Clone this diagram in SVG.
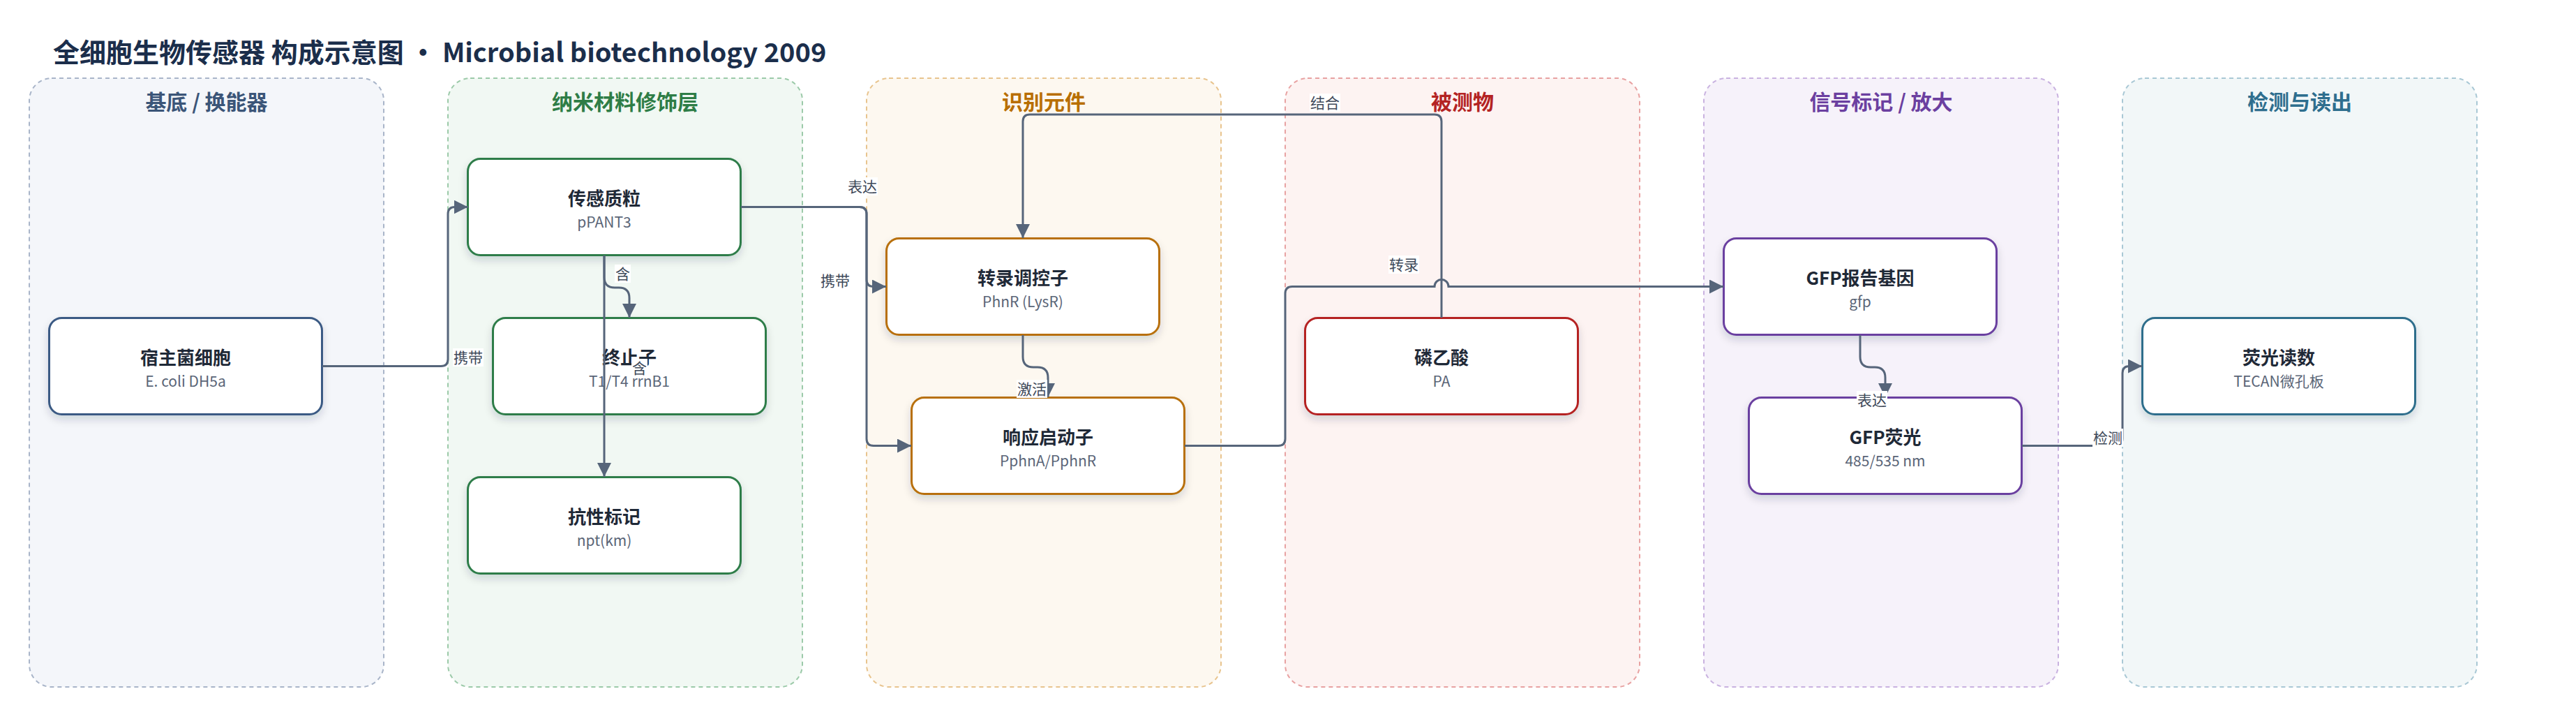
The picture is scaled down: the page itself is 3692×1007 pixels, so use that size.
<svg xmlns="http://www.w3.org/2000/svg" width="3692" height="1007" viewBox="0 0 3692 1007">
<defs>
<style>
text{font-family:"Noto Sans CJK SC","Noto Sans",sans-serif;}
.title{font-size:38px;font-weight:700;fill:#1b2e4b;}
.lane{stroke-width:2;stroke-dasharray:6 5;}
.lt{font-size:30px;font-weight:700;text-anchor:middle;}
.node{fill:#ffffff;stroke-width:3;filter:url(#sh);}
.nt{font-size:26px;font-weight:700;fill:#1f2937;text-anchor:middle;}
.ns{font-size:21px;fill:#5a6577;text-anchor:middle;}
.edge{fill:none;stroke:#56657a;stroke-width:3;marker-end:url(#arr);}
.lb{font-size:21px;fill:#3f4a5a;text-anchor:middle;}
.lbg{fill:#ffffff;}
</style>
<filter id="sh" x="-10%" y="-20%" width="120%" height="150%">
<feDropShadow dx="0" dy="6" stdDeviation="6" flood-color="#1f2937" flood-opacity="0.16"/>
</filter>
<marker id="arr" markerUnits="userSpaceOnUse" markerWidth="20" markerHeight="20" viewBox="0 0 20 20" refX="20" refY="10" orient="auto">
<path d="M0,0 L20,10 L0,20 z" fill="#56657a"/>
</marker>
</defs>
<rect width="3692" height="1007" fill="#ffffff"/>
<text class="title" x="76" y="89">全细胞生物传感器 构成示意图 • Microbial biotechnology 2009</text>

<g id="lanes">
<g id="lane-substrate"><rect class="lane" x="42" y="112" width="508" height="872" rx="32" fill="#f4f6fa" stroke="#a9b5c9"/><text class="lt" x="296" y="157" fill="#3b5578">基底 / 换能器</text></g>
<g id="lane-nano"><rect class="lane" x="642" y="112" width="508" height="872" rx="32" fill="#f1f8f3" stroke="#9ccaa9"/><text class="lt" x="896" y="157" fill="#2e7d46">纳米材料修饰层</text></g>
<g id="lane-recog"><rect class="lane" x="1242" y="112" width="508" height="872" rx="32" fill="#fdf8f0" stroke="#e8c48e"/><text class="lt" x="1496" y="157" fill="#b86e00">识别元件</text></g>
<g id="lane-analyte"><rect class="lane" x="1842" y="112" width="508" height="872" rx="32" fill="#fdf3f2" stroke="#e8a2a2"/><text class="lt" x="2096" y="157" fill="#b42323">被测物</text></g>
<g id="lane-signal"><rect class="lane" x="2442" y="112" width="508" height="872" rx="32" fill="#f6f2fa" stroke="#c9b2e0"/><text class="lt" x="2696" y="157" fill="#6b3fa0">信号标记 / 放大</text></g>
<g id="lane-detect"><rect class="lane" x="3042" y="112" width="508" height="872" rx="32" fill="#f2f7f8" stroke="#a9c8d5"/><text class="lt" x="3296" y="157" fill="#2e6e8e">检测与读出</text></g>
</g>

<g id="node-host"><rect class="node" x="70.5" y="455.5" width="391" height="138" rx="18" stroke="#3b5a84"/><text class="nt" x="266" y="521.5">宿主菌细胞</text><text class="ns" x="266" y="554">E. coli DH5a</text></g>
<g id="node-plasmid"><rect class="node" x="670.5" y="227.5" width="391" height="138" rx="18" stroke="#2e7d4a"/><text class="nt" x="866" y="293.5">传感质粒</text><text class="ns" x="866" y="326">pPANT3</text></g>
<g id="node-terminator"><rect class="node" x="706.5" y="455.5" width="391" height="138" rx="18" stroke="#2e7d4a"/><text class="nt" x="902" y="521.5">终止子</text><text class="ns" x="902" y="554">T1/T4 rrnB1</text></g>
<g id="node-resistance"><rect class="node" x="670.5" y="683.5" width="391" height="138" rx="18" stroke="#2e7d4a"/><text class="nt" x="866" y="749.5">抗性标记</text><text class="ns" x="866" y="782">npt(km)</text></g>
<g id="node-regulator"><rect class="node" x="1270.5" y="341.5" width="391" height="138" rx="18" stroke="#b8700a"/><text class="nt" x="1466" y="407.5">转录调控子</text><text class="ns" x="1466" y="440">PhnR (LysR)</text></g>
<g id="node-promoter"><rect class="node" x="1306.5" y="569.5" width="391" height="138" rx="18" stroke="#b8700a"/><text class="nt" x="1502" y="635.5">响应启动子</text><text class="ns" x="1502" y="668">PphnA/PphnR</text></g>
<g id="node-pa"><rect class="node" x="1870.5" y="455.5" width="391" height="138" rx="18" stroke="#b52424"/><text class="nt" x="2066" y="521.5">磷乙酸</text><text class="ns" x="2066" y="554">PA</text></g>
<g id="node-gfpgene"><rect class="node" x="2470.5" y="341.5" width="391" height="138" rx="18" stroke="#6b3fa0"/><text class="nt" x="2666" y="407.5">GFP报告基因</text><text class="ns" x="2666" y="440">gfp</text></g>
<g id="node-gfp"><rect class="node" x="2506.5" y="569.5" width="391" height="138" rx="18" stroke="#6b3fa0"/><text class="nt" x="2702" y="635.5">GFP荧光</text><text class="ns" x="2702" y="668">485/535 nm</text></g>
<g id="node-readout"><rect class="node" x="3070.5" y="455.5" width="391" height="138" rx="18" stroke="#2f6e8c"/><text class="nt" x="3266" y="521.5">荧光读数</text><text class="ns" x="3266" y="554">TECAN微孔板</text></g>

<g id="connectors">
<path class="edge" d="M462,524.5 H632 Q642,524.5 642,514.5 V306.5 Q642,296.5 652,296.5 H670.5"/>
<path class="edge" d="M866,366 V397 Q866,412 881,412 H887 Q902,412 902,427 V455"/>
<path class="edge" d="M866,366 V683"/>
<path class="edge" d="M1062,296.5 H1232 Q1242,296.5 1242,306.5 V400.5 Q1242,410.5 1252,410.5 H1270"/>
<path class="edge" d="M1062,296.5 H1232 Q1242,296.5 1242,306.5 V628.5 Q1242,638.5 1252,638.5 H1306"/>
<path class="edge" d="M1466,480 V511 Q1466,526 1481,526 H1487 Q1502,526 1502,541 V569"/>
<path class="edge" d="M2066,455 V174 Q2066,164 2056,164 H1476 Q1466,164 1466,174 V341"/>
<path class="edge" d="M1698,638.5 H1832 Q1842,638.5 1842,628.5 V420.5 Q1842,410.5 1852,410.5 H2056 A10,10 0 0 1 2076,410.5 H2470"/>
<path class="edge" d="M2666,480 V511 Q2666,526 2681,526 H2687 Q2702,526 2702,541 V569"/>
<path class="edge" d="M2898,638.5 H3032 Q3042,638.5 3042,628.5 V534.5 Q3042,524.5 3052,524.5 H3070"/>

<g id="edge-labels">
<rect class="lbg" x="649" y="499" width="44" height="26"/><text class="lb" x="671" y="519.5">携带</text>
<rect class="lbg" x="881" y="379" width="23" height="26"/><text class="lb" x="892.5" y="399.5">含</text>
<rect class="lbg" x="905" y="514" width="23" height="26"/><text class="lb" x="916.5" y="534.5">含</text>
<rect class="lbg" x="1214" y="254" width="44" height="26"/><text class="lb" x="1236" y="274.5">表达</text>
<rect class="lbg" x="1175" y="389" width="44" height="26"/><text class="lb" x="1197" y="409.5">携带</text>
<rect class="lbg" x="1457" y="544" width="44" height="26"/><text class="lb" x="1479" y="564.5">激活</text>
<rect class="lbg" x="1877" y="134" width="44" height="26"/><text class="lb" x="1899" y="154.5">结合</text>
<rect class="lbg" x="1990" y="366" width="44" height="26"/><text class="lb" x="2012" y="386.5">转录</text>
<rect class="lbg" x="2661" y="560" width="44" height="26"/><text class="lb" x="2683" y="580.5">表达</text>
<rect class="lbg" x="2999" y="614" width="44" height="26"/><text class="lb" x="3021" y="634.5">检测</text>
</g>
</g>
</svg>
